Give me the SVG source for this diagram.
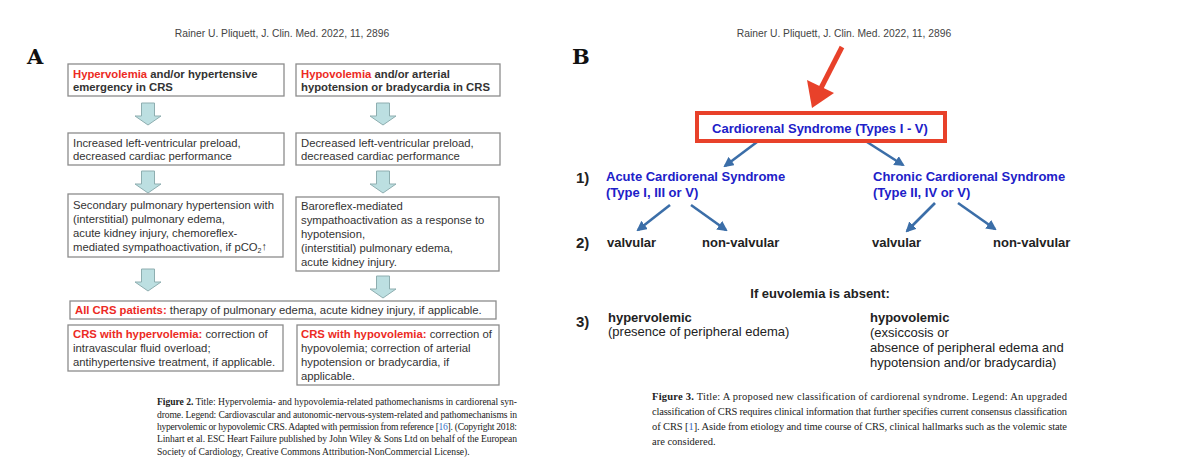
<svg xmlns="http://www.w3.org/2000/svg" width="1200" height="475" viewBox="0 0 1200 475">
<defs>
<style>
.bx{fill:#fff;stroke:#8c8c8c;stroke-width:1.3}
.t{font-family:"Liberation Sans",Arial,sans-serif;font-size:11.3px;fill:#333}
.b{font-weight:bold}
.r{fill:#ec2a24;font-weight:bold}
.hdr{font-family:"Liberation Sans",Arial,sans-serif;font-size:10.3px;fill:#444}
.lab{font-family:"DejaVu Serif",serif;font-weight:900;font-size:21px;fill:#111}
.cap{font-family:"Liberation Serif","Times New Roman",serif;fill:#222}
.bt{font-family:"Liberation Sans",Arial,sans-serif;font-size:13px;font-weight:bold;fill:#2020c8}
.k{font-family:"Liberation Sans",Arial,sans-serif;font-size:13px;fill:#222}
.num{font-family:"Liberation Sans",Arial,sans-serif;font-size:15px;font-weight:bold;fill:#222}
.lnk{fill:#3a6fc4}
.ba{fill:#bcdfe1;stroke:#8eaeb0;stroke-width:1}
.ar{stroke:#3b6ea8;stroke-width:2.6;fill:none;marker-end:url(#ah)}
</style>
<path id="blk" class="ba" d="M-6.5,0 H6.5 V13 H13 L0,22 L-13,13 H-6.5 Z"/>
<marker id="ah" viewBox="0 0 10 10" refX="8" refY="5" markerWidth="4" markerHeight="4" orient="auto" markerUnits="strokeWidth">
<path d="M0,0 L10,5 L0,10 Z" fill="#3b6ea8"/>
</marker>
</defs>
<rect width="1200" height="475" fill="#fff"/>

<!-- Panel A -->
<text class="hdr" x="282" y="37" text-anchor="middle">Rainer U. Pliquett, J. Clin. Med. 2022, 11, 2896</text>
<text class="lab" x="27" y="64">A</text>

<g id="connectorsA">
<use href="#blk" x="148" y="103"/>
<use href="#blk" x="383" y="103"/>
<use href="#blk" x="148" y="171"/>
<use href="#blk" x="383" y="171"/>
<use href="#blk" x="148" y="269"/>
<use href="#blk" x="383" y="276"/>
</g>

<g id="a1"><rect class="bx" x="68" y="64" width="216" height="32"/>
<text class="t b" x="73" y="78"><tspan class="r">Hypervolemia</tspan> and/or hypertensive</text>
<text class="t b" x="73" y="91">emergency in CRS</text></g>

<g id="a2"><rect class="bx" x="296" y="64" width="204" height="32"/>
<text class="t b" x="301" y="78"><tspan class="r">Hypovolemia</tspan> and/or arterial</text>
<text class="t b" x="301" y="91">hypotension or bradycardia in CRS</text></g>

<g id="a3"><rect class="bx" x="68" y="133" width="216" height="32"/>
<text class="t" x="73" y="147">Increased left-ventricular preload,</text>
<text class="t" x="73" y="160">decreased cardiac performance</text></g>

<g id="a4"><rect class="bx" x="296" y="133" width="204" height="32"/>
<text class="t" x="301" y="147">Decreased left-ventricular preload,</text>
<text class="t" x="301" y="160">decreased cardiac performance</text></g>

<g id="a5"><rect class="bx" x="68" y="194" width="215" height="63"/>
<text class="t" x="73" y="209">Secondary pulmonary hypertension with</text>
<text class="t" x="73" y="223">(interstitial) pulmonary edema,</text>
<text class="t" x="73" y="237">acute kidney injury, chemoreflex-</text>
<text class="t" x="73" y="251">mediated sympathoactivation, if pCO<tspan font-size="7" dy="2">2</tspan><tspan dy="-3" font-size="11">↑</tspan></text></g>

<g id="a6"><rect class="bx" x="296" y="197" width="203" height="74"/>
<text class="t" x="301" y="210">Baroreflex-mediated</text>
<text class="t" x="301" y="224">sympathoactivation as a response to</text>
<text class="t" x="301" y="238">hypotension,</text>
<text class="t" x="301" y="252">(interstitial) pulmonary edema,</text>
<text class="t" x="301" y="266">acute kidney injury.</text></g>

<g id="a7"><rect class="bx" x="70" y="301" width="426" height="18"/>
<text class="t" x="75" y="314"><tspan class="r">All CRS patients:</tspan> therapy of pulmonary edema, acute kidney injury, if applicable.</text></g>

<g id="a8"><rect class="bx" x="68" y="325" width="215" height="46"/>
<text class="t" x="73" y="338"><tspan class="r">CRS with hypervolemia:</tspan> correction of</text>
<text class="t" x="73" y="352">intravascular fluid overload;</text>
<text class="t" x="73" y="366">antihypertensive treatment, if applicable.</text></g>

<g id="a9"><rect class="bx" x="297" y="325" width="202" height="60"/>
<text class="t" x="301" y="338"><tspan class="r">CRS with hypovolemia:</tspan> correction of</text>
<text class="t" x="301" y="352">hypovolemia; correction of arterial</text>
<text class="t" x="301" y="366">hypotension or bradycardia, if</text>
<text class="t" x="301" y="380">applicable.</text></g>

<g id="capA" class="cap" font-size="9.6">
<text x="157" y="405" textLength="360" lengthAdjust="spacing"><tspan font-weight="bold">Figure 2.</tspan> Title: Hypervolemia- and hypovolemia-related pathomechanisms in cardiorenal syn-</text>
<text x="157" y="418" textLength="360" lengthAdjust="spacing">drome. Legend: Cardiovascular and autonomic-nervous-system-related and pathomechanisms in</text>
<text x="157" y="430" textLength="360" lengthAdjust="spacing">hypervolemic or hypovolemic CRS. Adapted with permission from reference [<tspan class="lnk">16</tspan>]. (Copyright 2018:</text>
<text x="157" y="442" textLength="360" lengthAdjust="spacing">Linhart et al.  ESC Heart Failure published by John Wiley &amp; Sons Ltd on behalf of the European</text>
<text x="157" y="455">Society of Cardiology, Creative Commons Attribution-NonCommercial License).</text>
</g>

<!-- Panel B -->
<text class="hdr" x="844" y="37" text-anchor="middle">Rainer U. Pliquett, J. Clin. Med. 2022, 11, 2896</text>
<text class="lab" x="572" y="64">B</text>

<g id="connectorsB">
<line x1="842" y1="47" x2="820" y2="90" stroke="#e8412a" stroke-width="5"/>
<path d="M812,108 L807,80 L834,93 Z" fill="#e8412a"/>
<line class="ar" x1="757" y1="142" x2="725" y2="166"/>
<line class="ar" x1="867" y1="142" x2="903" y2="165"/>
<line class="ar" x1="670" y1="205" x2="638" y2="230"/>
<line class="ar" x1="691" y1="205" x2="726" y2="230"/>
<line class="ar" x1="935" y1="203" x2="907" y2="231"/>
<line class="ar" x1="958" y1="203" x2="995" y2="229"/>
</g>

<g id="root"><rect x="697" y="113" width="248" height="28" fill="#fff" stroke="#e8412a" stroke-width="4"/>
<text class="bt" x="820" y="133" text-anchor="middle">Cardiorenal Syndrome (Types I - V)</text></g>

<text class="num" x="576" y="183">1)</text>
<g id="acute"><text class="bt" x="606" y="181">Acute Cardiorenal Syndrome</text>
<text class="bt" x="606" y="197">(Type I, III or V)</text></g>
<g id="chronic"><text class="bt" x="873" y="181">Chronic Cardiorenal Syndrome</text>
<text class="bt" x="873" y="197">(Type II, IV or V)</text></g>

<text class="num" x="576" y="248">2)</text>
<g id="v1"><text class="k b" x="607" y="247">valvular</text></g>
<g id="nv1"><text class="k b" x="702" y="247">non-valvular</text></g>
<g id="v2"><text class="k b" x="872" y="247">valvular</text></g>
<g id="nv2"><text class="k b" x="993" y="247">non-valvular</text></g>

<text class="k b" x="820" y="298" text-anchor="middle">If euvolemia is absent:</text>
<text class="num" x="576" y="327">3)</text>
<g id="hyper"><text class="k b" x="608" y="322">hypervolemic</text>
<text class="k" x="608" y="336">(presence of peripheral edema)</text></g>
<g id="hypo"><text class="k b" x="870" y="322">hypovolemic</text>
<text class="k" x="870" y="337">(exsiccosis or</text>
<text class="k" x="870" y="352">absence of peripheral edema and</text>
<text class="k" x="870" y="367">hypotension and/or bradycardia)</text></g>

<g id="capB" class="cap" font-size="10.5">
<text x="652" y="400" textLength="415" lengthAdjust="spacing"><tspan font-weight="bold">Figure 3.</tspan>  Title:  A proposed new classification of cardiorenal syndrome.  Legend:  An upgraded</text>
<text x="652" y="415" textLength="415" lengthAdjust="spacing">classification of CRS requires clinical information that further specifies current consensus classification</text>
<text x="652" y="430" textLength="415" lengthAdjust="spacing">of CRS [<tspan class="lnk">1</tspan>]. Aside from etiology and time course of CRS, clinical hallmarks such as the volemic state</text>
<text x="652" y="445">are considered.</text>
</g>
</svg>
